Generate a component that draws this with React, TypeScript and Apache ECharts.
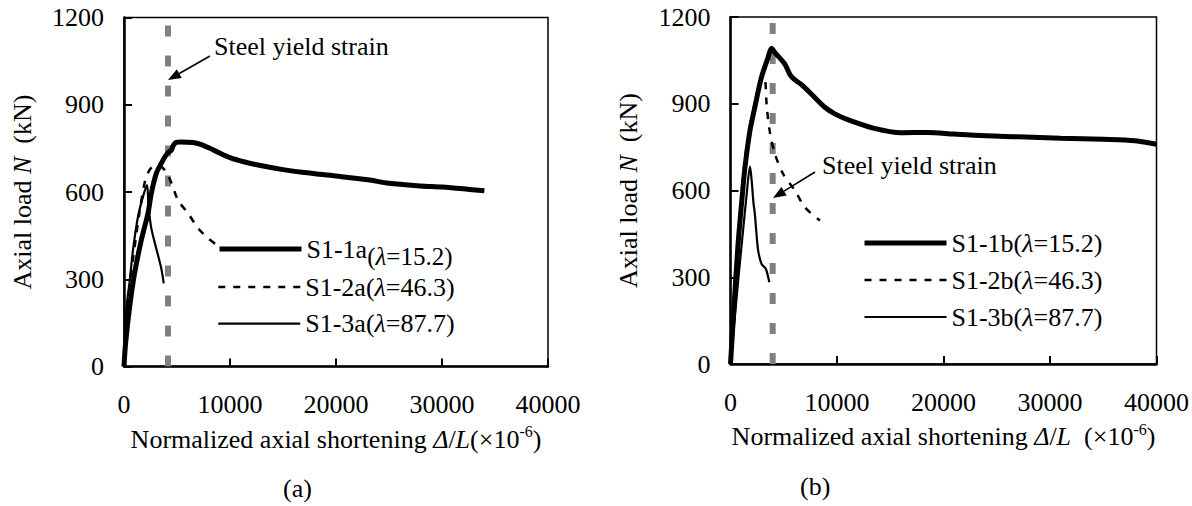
import React, { useEffect, useRef } from "react";
import * as echarts from "echarts";

// ---------- data ----------
const xTicks = [0, 10000, 20000, 30000, 40000];
const yTicks = [0, 300, 600, 900, 1200];

const namesA = ["S1-1a", "S1-2a", "S1-3a"];
const namesB = ["S1-1b", "S1-2b", "S1-3b"];
const lambdas = ["15.2", "46.3", "87.7"];

const yieldStrainA = 4150;
const yieldStrainB = 3960;

const s11a = [
  [0, 0], [150, 80], [535, 206], [1000, 321], [1635, 435], [2264, 527], [2579, 596],
  [3050, 664], [3523, 699], [4088, 733], [4465, 744], [4650, 760], [4900, 770],
  [5300, 772], [6500, 770], [7300, 763], [8000, 752], [8800, 738], [10000, 718],
  [11300, 704], [13000, 690], [15000, 677], [17000, 667], [20000, 655], [23000, 642],
  [25000, 630], [28000, 621], [30000, 617], [32000, 611], [34000, 604],
];
const s12a = [
  [0, 0], [250, 170], [600, 300], [1000, 410], [1500, 540], [2000, 640], [2400, 675],
  [2736, 687], [3200, 690], [3836, 676], [4465, 632], [5094, 572], [6037, 527],
  [6980, 476], [7800, 445], [8600, 422],
];
const s13a = [
  [0, 0], [200, 190], [535, 293], [849, 401], [1320, 515], [1792, 584], [2170, 624],
  [2300, 560], [2550, 480], [3050, 405], [3500, 340], [3750, 286],
];

const s11b = [
  [0, 0], [300, 180], [700, 410], [1050, 560], [1362, 681], [1831, 808], [2285, 888],
  [2910, 992], [3536, 1061], [3850, 1092], [4164, 1077], [5103, 1037], [5600, 1000],
  [6043, 983], [6669, 966], [7608, 933], [8860, 888], [9800, 865], [11000, 845],
  [13500, 815], [16000, 800], [18500, 801], [21000, 795], [24000, 789], [27000, 786],
  [31000, 781], [35000, 777], [38000, 772], [40000, 760],
];
const s12b = [
  [0, 0], [300, 210], [700, 430], [1300, 690], [1800, 815], [2300, 905], [2700, 970],
  [3050, 1000], [3250, 985], [3411, 888], [3724, 796], [4164, 727], [4946, 657],
  [6043, 600], [6982, 542], [8400, 496],
];
const s13b = [
  [0, 0], [400, 160], [800, 320], [1200, 470], [1500, 580], [1831, 683], [1988, 634],
  [2150, 560], [2285, 519], [2441, 450], [2597, 392], [2910, 346], [3223, 334],
  [3380, 323], [3646, 283],
];

// ---------- styles ----------
const FONT = "Liberation Serif";
const FS = 26;
const LINE_STYLES = [
  { color: "#000", width: 5, type: "solid" },
  { color: "#000", width: 2.5, type: [7, 8] },
  { color: "#000", width: 2.2, type: "solid" },
];

function arrow(tail: number[], tip: number[]) {
  const dx = tip[0] - tail[0];
  const dy = tip[1] - tail[1];
  const len = Math.sqrt(dx * dx + dy * dy);
  const ux = dx / len, uy = dy / len;
  const hl = 13, hw = 5;
  const bx = tip[0] - ux * hl, by = tip[1] - uy * hl;
  const nx = -uy, ny = ux;
  return [
    {
      type: "line",
      shape: { x1: tail[0], y1: tail[1], x2: bx, y2: by },
      style: { stroke: "#000", lineWidth: 1.6 },
    },
    {
      type: "polygon",
      shape: {
        points: [
          [tip[0], tip[1]],
          [bx + nx * hw, by + ny * hw],
          [bx - nx * hw, by - ny * hw],
        ],
      },
      style: { fill: "#000" },
    },
  ];
}

function makeAxes(gridIndex: number) {
  const x = {
    type: "value",
    gridIndex,
    min: xTicks[0],
    max: xTicks[xTicks.length - 1],
    interval: xTicks[1] - xTicks[0],
    axisLine: { show: true, onZero: false, lineStyle: { color: "#000", width: 2.5 } },
    axisTick: { show: true, inside: true, length: 8, lineStyle: { color: "#000", width: 2 } },
    axisLabel: {
      color: "#000",
      fontFamily: FONT,
      fontSize: FS,
      margin: 25,
      formatter: (v: number) => String(v),
    },
    splitLine: { show: false },
    name:
      gridIndex === 0
        ? "Normalized axial shortening {i|Δ}/{i|L}{n|(×10}{s|-6}{n|)}"
        : "Normalized axial shortening {i|Δ}/{i|L} {n| (×10}{s|-6}{n|)}",
    nameLocation: "middle",
    nameGap: 57,
    nameTextStyle: {
      color: "#000",
      fontFamily: FONT,
      fontSize: FS,
      rich: {
        i: { fontFamily: FONT, fontSize: FS, fontStyle: "italic", color: "#000" },
        n: { fontFamily: FONT, fontSize: FS, color: "#000" },
        s: { fontFamily: FONT, fontSize: 16, color: "#000", padding: [0, 0, 15, 0] },
      },
    },
  };
  const y = {
    type: "value",
    gridIndex,
    min: yTicks[0],
    max: yTicks[yTicks.length - 1],
    interval: yTicks[1] - yTicks[0],
    axisLine: { show: true, lineStyle: { color: "#000", width: 2.5 } },
    axisTick: { show: true, inside: true, length: 8, lineStyle: { color: "#000", width: 2 } },
    axisLabel: {
      color: "#000",
      fontFamily: FONT,
      fontSize: FS,
      margin: 20,
      formatter: (v: number) => String(v),
    },
    splitLine: { show: false },
    name: "Axial load {i|N}  (kN)",
    nameLocation: "middle",
    nameRotate: 90,
    nameGap: 89,
    nameTextStyle: {
      color: "#000",
      fontFamily: FONT,
      fontSize: FS,
      rich: {
        i: { fontFamily: FONT, fontSize: FS, fontStyle: "italic", color: "#000" },
      },
    },
  };
  return { x, y };
}

function legendFormatter(names: string[], lowerFirst: boolean) {
  return (name: string) => {
    const idx = names.indexOf(name);
    const lam = lambdas[idx];
    if (idx === 0 && lowerFirst) {
      return `{n|${name}}{ps|(}{is|λ}{ps|=${lam})}`;
    }
    return `{n|${name}}{p|(}{i|λ}{p|=${lam})}`;
  };
}

const legendRich = {
  n: { fontFamily: FONT, fontSize: FS, color: "#000" },
  p: { fontFamily: FONT, fontSize: FS, color: "#000" },
  i: { fontFamily: FONT, fontSize: FS, color: "#000", fontStyle: "italic" },
  ps: { fontFamily: FONT, fontSize: 25, color: "#000", padding: [14, 0, 0, 0] },
  is: { fontFamily: FONT, fontSize: 25, color: "#000", fontStyle: "italic", padding: [14, 0, 0, 0] },
};

function seriesFor(names: string[], data: number[][][], gridIdx: number, ys: number) {
  const out: any[] = names.map((n, i) => ({
    name: n,
    type: "line",
    xAxisIndex: gridIdx,
    yAxisIndex: gridIdx,
    data: data[i],
    showSymbol: false,
    symbol: "none",
    smooth: 0.3,
    lineStyle: LINE_STYLES[i],
    itemStyle: { color: "#000" },
    z: 3,
  }));
  out.push({
    name: "yield" + gridIdx,
    type: "line",
    xAxisIndex: gridIdx,
    yAxisIndex: gridIdx,
    data: [
      [ys, yTicks[0]],
      [ys, yTicks[yTicks.length - 1]],
    ],
    showSymbol: false,
    symbol: "none",
    lineStyle: { color: "#808080", width: 6, type: [11, 19] },
    z: 2,
  });
  return out;
}

function makeLegend(
  allNames: string[],
  names: string[],
  left: number,
  top: number,
  gap: number,
  lowerFirst: boolean
) {
  return {
    data: names.map((n) => ({
      name: n,
      lineStyle: { ...LINE_STYLES[allNames.indexOf(n)] },
    })),
    orient: "vertical",
    left,
    top,
    itemWidth: 82,
    itemHeight: 14,
    itemGap: gap,
    padding: 0,
    itemStyle: { opacity: 0 },
    formatter: legendFormatter(allNames, lowerFirst),
    textStyle: { color: "#000", fontFamily: FONT, fontSize: FS, lineHeight: 28, rich: legendRich },
    selectedMode: false,
  };
}

export default function App() {
  const ref = useRef<HTMLDivElement>(null);
  useEffect(() => {
    if (!ref.current) return;
    const chart = echarts.init(ref.current, undefined, { renderer: "svg" });
    const a = makeAxes(0);
    const b = makeAxes(1);
    const font = `${FS}px "${FONT}"`;
    const option: any = {
      animation: false,
      backgroundColor: "#fff",
      textStyle: { fontFamily: FONT },
      grid: [
        { left: 124, top: 17.5, width: 424, height: 349, show: true, borderColor: "#000", borderWidth: 1.5, containLabel: false },
        { left: 730.5, top: 17, width: 426.5, height: 347, show: true, borderColor: "#000", borderWidth: 1.5, containLabel: false },
      ],
      xAxis: [a.x, b.x],
      yAxis: [a.y, b.y],
      legend: [
        makeLegend(namesA, namesA.slice(0, 1), 217, 235, 0, true),
        makeLegend(namesA, namesA.slice(1), 217, 273, 8.6, false),
        makeLegend(namesB, namesB, 862, 229, 9, false),
      ],
      series: [
        ...seriesFor(namesA, [s11a, s12a, s13a], 0, yieldStrainA),
        ...seriesFor(namesB, [s11b, s12b, s13b], 1, yieldStrainB),
      ],
      graphic: [
        { type: "text", left: 214, top: 33, style: { text: "Steel yield strain", font, fill: "#000" } },
        { type: "text", left: 822, top: 152, style: { text: "Steel yield strain", font, fill: "#000" } },
        ...arrow([210, 56], [168, 80]),
        ...arrow([815, 172], [773, 198]),
        { type: "text", left: 283, top: 475, style: { text: "(a)", font, fill: "#000" } },
        { type: "text", left: 800, top: 473, style: { text: "(b)", font, fill: "#000" } },
      ],
    };
    chart.setOption(option);
    return () => chart.dispose();
  }, []);
  return (
    <div
      ref={ref}
      style={{ position: "fixed", left: 0, top: 0, width: 1192, height: 506, background: "#fff" }}
    />
  );
}
